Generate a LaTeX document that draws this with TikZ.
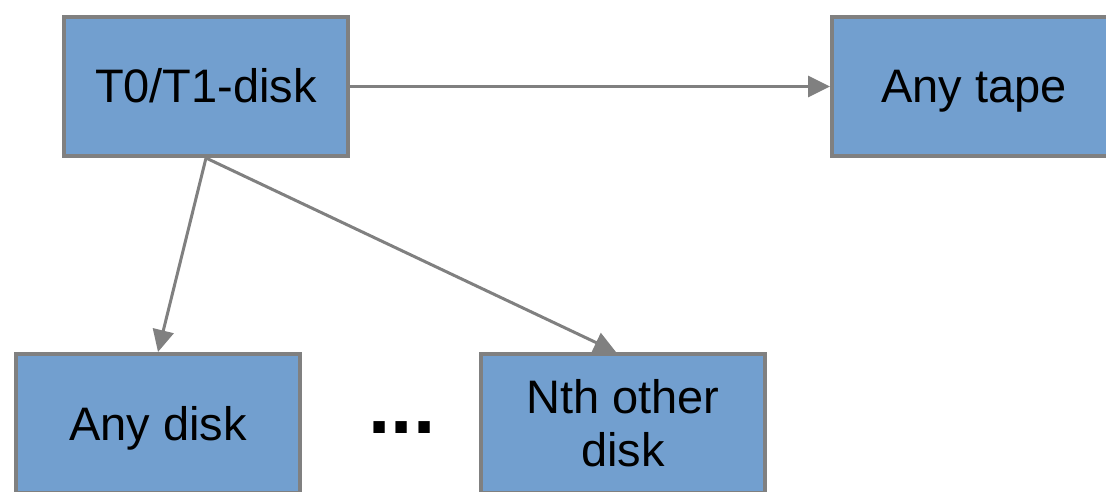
\documentclass[tikz,border=0pt]{standalone}
\usepackage{fontspec}
\setmainfont{Liberation Sans}
\usetikzlibrary{arrows.meta}
\definecolor{boxfill}{HTML}{729FCF}
\definecolor{boxline}{HTML}{808080}
\begin{document}
\begin{tikzpicture}[x=1pt,y=-1pt,
  box/.style={draw=boxline,fill=boxfill,line width=4pt,minimum width=284pt,minimum height=139pt,inner sep=0pt,align=center,font=\fontsize{47}{53}\selectfont},
  oneline/.style={box,text height=34pt,text depth=1pt},
  conn/.style={draw=boxline,line width=3pt,-{Triangle[length=22pt,width=21pt]}}]
\useasboundingbox (0,0) rectangle (1106,492);
\node[oneline] (t) at (206,86.5) {T0/T1-disk};
\node[oneline] (tape) at (974,86.5) {Any tape};
\node[oneline] (ad) at (158,423.5) {Any disk};
\node[box] (nth) at (623,423.5) {Nth other\\disk};
\node[font=\fontsize{80}{80}\bfseries\selectfont,inner sep=0pt,anchor=base] (dots) at (402,433) {...};
\draw[conn] (t.east) -- (tape.west);
\draw[conn] (t.south) -- (ad.north);
\draw[conn] (t.south) -- ([xshift=-7pt]nth.north);
\end{tikzpicture}
\end{document}
